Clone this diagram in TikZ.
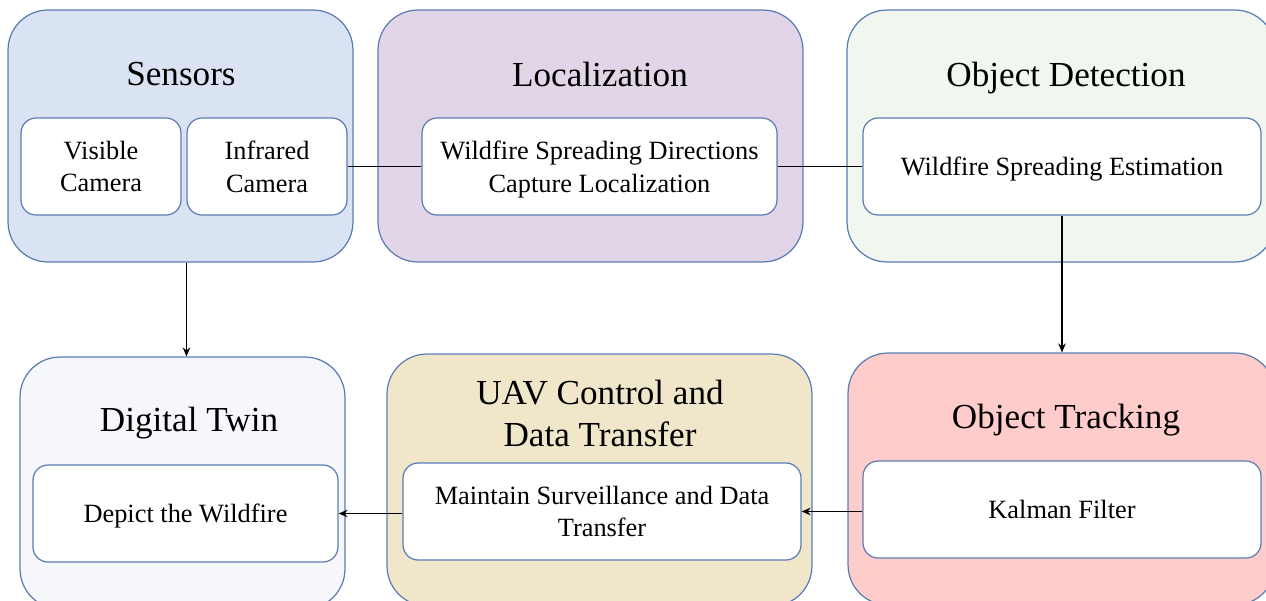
\documentclass[tikz,border=0pt]{standalone}
\usepackage{fontspec}
\setmainfont{Liberation Serif}
\usepackage{tikz}
\usetikzlibrary{positioning, arrows.meta}

\definecolor{edgeblue}{HTML}{5B7DB4}
\definecolor{sensorfill}{HTML}{DAE3F3}
\definecolor{locfill}{HTML}{E1D5E7}
\definecolor{detectfill}{HTML}{F1F6EE}
\definecolor{twinfill}{HTML}{F5F7FA}
\definecolor{uavfill}{HTML}{F0E6CA}
\definecolor{trackfill}{HTML}{FFCCCC}

\begin{document}
\begin{tikzpicture}[
        x=0.02cm, y=-0.02cm,
        group/.style={rectangle, draw=edgeblue, line width=0.7pt, rounded corners=0.8cm, minimum height=5.04cm},
        box/.style={rectangle, draw=edgeblue, line width=0.7pt, fill=white, rounded corners=0.3cm, minimum height=1.94cm, align=center, text depth=0pt, font=\fontsize{15}{18.5}\selectfont},
        title/.style={align=center, text depth=0pt, font=\fontsize{20}{24}\selectfont},
        arrow/.style={-{Stealth[length=1.8mm, width=1.5mm]}, line width=1.1pt},
        link/.style={line width=1.1pt}
    ]
        \clip (0,0) rectangle (1266,600);

        % Define group boxes
        \node (sensors) [group, fill=sensorfill, minimum width=6.9cm] at (180.5,136) {};
        \node (loc) [group, fill=locfill, minimum width=8.5cm] at (590.5,136) {};
        \node (detect) [group, fill=detectfill, minimum width=8.56cm] at (1061,136) {};
        \node (twin) [group, fill=twinfill, minimum width=6.5cm] at (182.5,483) {};
        \node (uav) [group, fill=uavfill, minimum width=8.5cm] at (599.5,480) {};
        \node (track) [group, fill=trackfill, minimum width=8.54cm] at (1061.5,479) {};

        % Titles
        \node (sensors_label) [title] at (181,74) {Sensors};
        \node (loc_label) [title] at (600,74) {Localization};
        \node (detect_label) [title] at (1066,74) {Object Detection};
        \node (twin_label) [title] at (189,419) {Digital Twin};
        \node (uav_label) [title] at (600,413) {UAV Control and\\Data Transfer};
        \node (track_label) [title] at (1066,416) {Object Tracking};

        % Define inner nodes
        \node (visible) [box, minimum width=3.2cm] at (101,166.5) {Visible\\Camera};
        \node (infrared) [box, minimum width=3.2cm] at (267,166.5) {Infrared\\Camera};
        \node (directions) [box, minimum width=7.1cm] at (599.5,166.5) {Wildfire Spreading Directions\\Capture Localization};
        \node (estimation) [box, minimum width=7.96cm] at (1062,166.5) {Wildfire Spreading Estimation};
        \node (depict) [box, minimum width=6.1cm] at (185.5,513.5) {Depict the Wildfire};
        \node (maintain) [box, minimum width=7.96cm] at (602,511.5) {Maintain Surveillance and Data\\Transfer};
        \node (kalman) [box, minimum width=7.96cm] at (1062,509.5) {Kalman Filter};

        % Draw links and arrows
        \draw [link] (infrared) -- (directions);
        \draw [link] (directions) -- (estimation);
        \draw [arrow] ([xshift=0.08cm]twin.north |- sensors.south) -- ([xshift=0.08cm]twin.north);
        \draw [arrow] (estimation.south) -- (estimation.south |- track.north);
        \draw [arrow] (kalman.west |- maintain.east) -- (maintain.east);
        \draw [arrow] (maintain.west |- depict.east) -- (depict.east);
    \end{tikzpicture}
\end{document}
